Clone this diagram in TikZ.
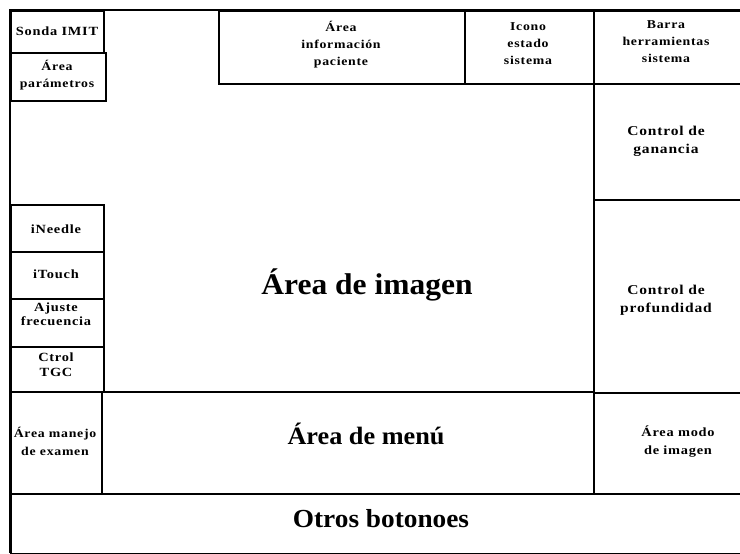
\documentclass[tikz,border=0pt]{standalone}
\usepackage{fontspec}
\setmainfont{Liberation Serif}
\newfontfamily\lblfont{Liberation Serif}[LetterSpace=6,FakeStretch=1.15]
\newfontfamily\bigfont{Liberation Serif}[FakeStretch=1.05]
\begin{document}
\begin{tikzpicture}[x=1pt,y=-1pt,
  box/.style={draw, line width=2pt, inner sep=0pt, anchor=north west},
  lbl/.style={align=center, inner sep=0pt, font=\lblfont\bfseries\fontsize{13.5}{18}\selectfont},
  lblsm/.style={lbl, font=\lblfont\bfseries\fontsize{12}{17}\selectfont},
  big/.style={inner sep=0pt, font=\bigfont\bfseries\fontsize{29}{32}\selectfont}]
\useasboundingbox (0,0) rectangle (740,554);
% frame
\coordinate (tl) at (10,10);
\coordinate (tr) at (742,10);
\coordinate (bl) at (10,553);
\draw[line width=2pt] (tr) -- (tl) -- (bl);
% boxes
\node[box, minimum width=93pt, minimum height=42pt] (sonda) at (10,10) {};
\node[box, minimum width=95pt, minimum height=48pt] (param) at (10,52) {};
\node[box, minimum width=246pt, minimum height=73pt] (info) at (218,10) {};
\node[box, minimum width=129pt, minimum height=73pt] (icono) at (464,10) {};
\node[box, minimum width=150pt, minimum height=73pt] (barra) at (593,10) {};
\node[box, minimum width=150pt, minimum height=116pt] (gan) at (593,83) {};
\node[box, minimum width=150pt, minimum height=193pt] (prof) at (593,199) {};
\node[box, minimum width=150pt, minimum height=101pt] (modo) at (593,392) {};
\node[box, minimum width=93pt, minimum height=47pt] (ineedle) at (10,204) {};
\node[box, minimum width=93pt, minimum height=47pt] (itouch) at (10,251) {};
\node[box, minimum width=93pt, minimum height=48pt] (ajuste) at (10,298) {};
\node[box, minimum width=93pt, minimum height=45pt] (tgc) at (10,346) {};
\node[box, minimum width=91pt, minimum height=102pt] (manejo) at (10,391) {};
\node[box, minimum width=492pt, minimum height=102pt] (menu) at (101,391) {};
\node[box, minimum width=734pt, minimum height=60pt] (otros) at (10,493) {};
% labels
\node[lbl, font=\lblfont\bfseries\fontsize{12.5}{17}\selectfont] (t-sonda) at (57,31) {Sonda IMIT};
\node[lblsm] (t-param) at (57,75) {Área\\parámetros};
\node[lblsm] (t-info) at (341,45) {Área\\información\\paciente};
\node[lblsm] (t-icono) at (528,44) {Icono\\estado\\sistema};
\node[lblsm] (t-barra) at (666,42) {Barra\\herramientas\\sistema};
\node[lbl] (t-gan) at (666,141) {Control de\\ganancia};
\node[lbl] (t-prof) at (666,300) {Control de\\profundidad};
\node[lbl, font=\lblfont\bfseries\fontsize{12.5}{18}\selectfont] (t-modo) at (678,442) {Área modo\\de imagen};
\node[lbl, font=\lblfont\bfseries\fontsize{12.5}{17}\selectfont] (t-ineedle) at (56,229) {iNeedle};
\node[lbl, font=\lblfont\bfseries\fontsize{12.5}{17}\selectfont] (t-itouch) at (56,274) {iTouch};
\node[lbl, font=\lblfont\bfseries\fontsize{12.5}{13.5}\selectfont] (t-ajuste) at (56,314) {Ajuste\\frecuencia};
\node[lbl, font=\lblfont\bfseries\fontsize{12.5}{15}\selectfont] (t-tgc) at (56,365) {Ctrol\\TGC};
\node[lbl, font=\lblfont\bfseries\fontsize{12}{18}\selectfont] (t-manejo) at (55,441) {Área manejo\\de examen};
\node[big, font=\bigfont\bfseries\fontsize{30}{32}\selectfont] (t-imagen) at (367,285) {Área de imagen};
\node[big, font=\bigfont\bfseries\fontsize{25}{30}\selectfont] (t-menu) at (366,434) {Área de menú};
\node[big, font=\bigfont\bfseries\fontsize{26}{30}\selectfont] (t-otros) at (381,519) {Otros botonoes};
\end{tikzpicture}
\end{document}
